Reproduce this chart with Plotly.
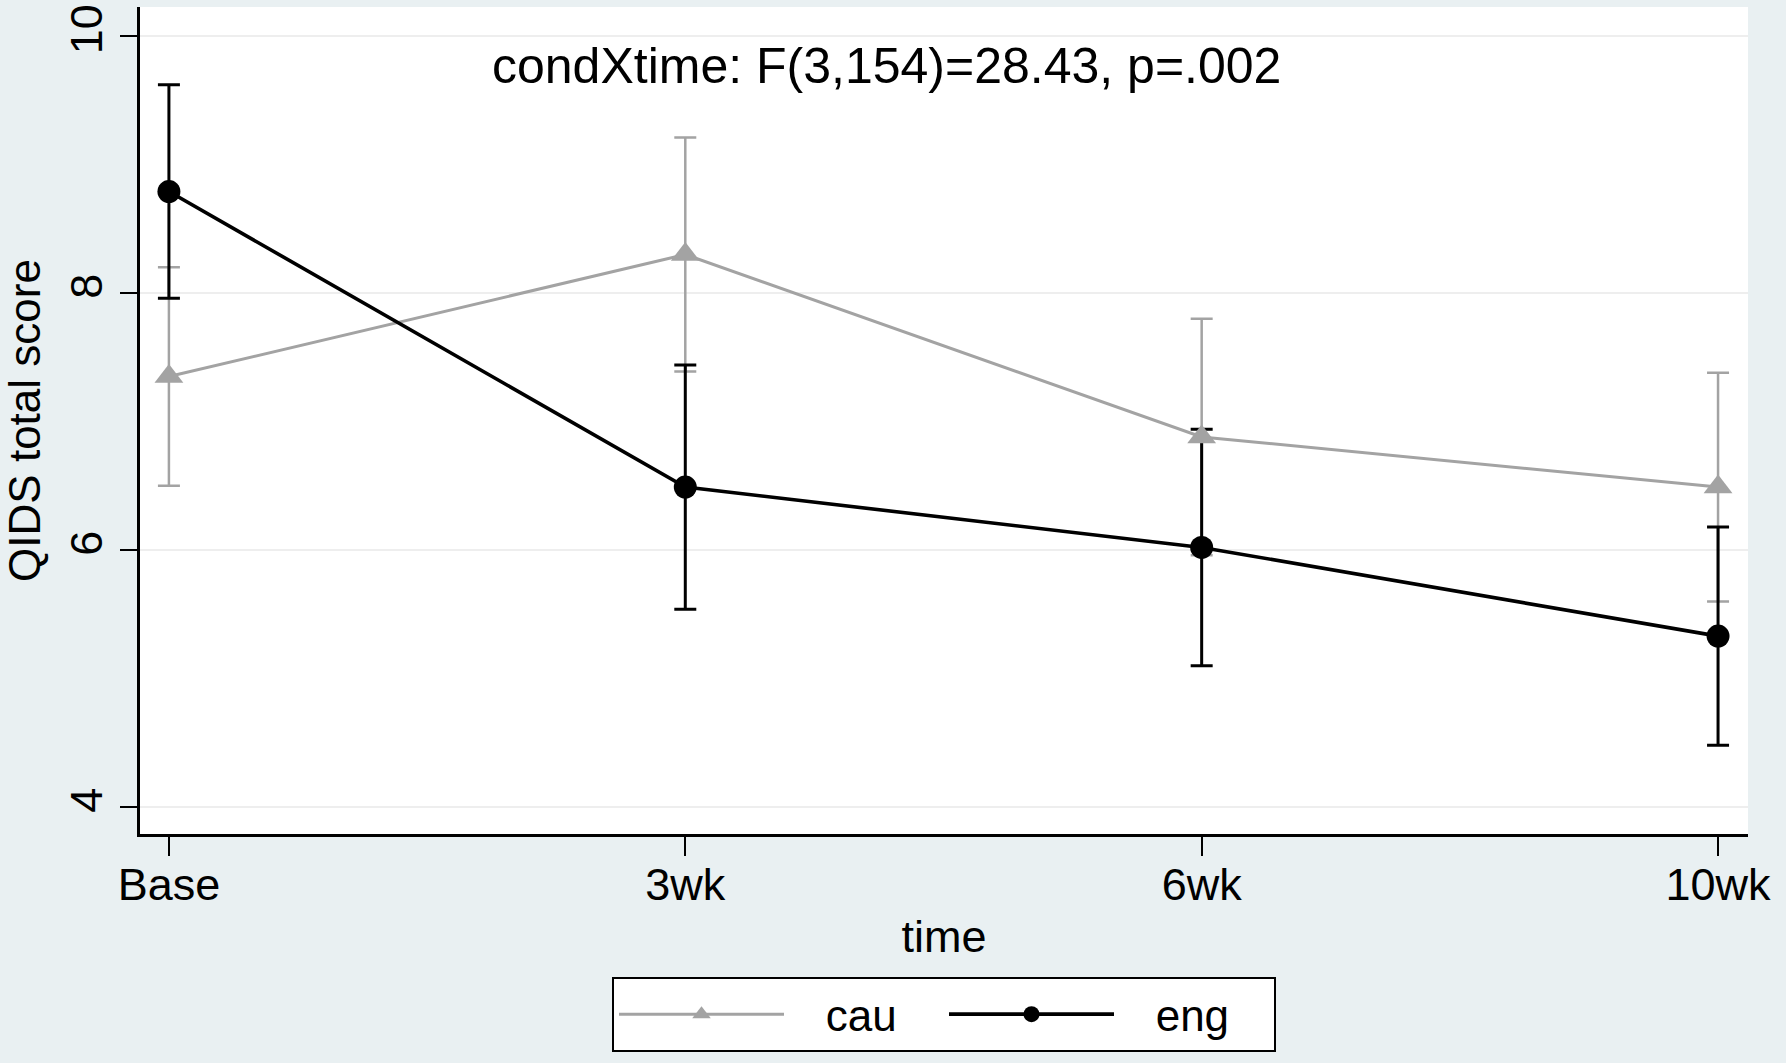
import plotly.graph_objects as go

times = ["Base", "3wk", "6wk", "10wk"]
cau_mean = [7.35, 8.30, 6.88, 6.49]
cau_err = [0.85, 0.91, 0.92, 0.89]
eng_mean = [8.79, 6.49, 6.02, 5.33]
eng_err = [0.83, 0.95, 0.92, 0.85]
y_ticks = [4, 6, 8, 10]
annot_text = "condXtime: F(3,154)=28.43, p=.002"

GRAY = "#A3A3A3"
BLACK = "#000000"
FONT = "Liberation Sans, Arial, Helvetica, sans-serif"

fig = go.Figure()

# error bars first
fig.add_trace(go.Scatter(
    x=times, y=cau_mean, mode="markers", showlegend=False, hoverinfo="skip",
    marker=dict(size=1, color="rgba(0,0,0,0)"),
    error_y=dict(type="data", array=cau_err, visible=True, color=GRAY, thickness=2.5, width=11),
))
fig.add_trace(go.Scatter(
    x=times, y=eng_mean, mode="markers", showlegend=False, hoverinfo="skip",
    marker=dict(size=1, color="rgba(0,0,0,0)"),
    error_y=dict(type="data", array=eng_err, visible=True, color=BLACK, thickness=3, width=11),
))
# lines + markers
fig.add_trace(go.Scatter(
    x=times, y=cau_mean, mode="lines+markers", name="\u00a0\u00a0\u00a0cau",
    line=dict(color=GRAY, width=3),
    marker=dict(symbol="triangle-up", size=25, color=GRAY),
))
fig.add_trace(go.Scatter(
    x=times, y=eng_mean, mode="lines+markers", name="\u00a0\u00a0\u00a0eng",
    line=dict(color=BLACK, width=3.6),
    marker=dict(symbol="circle", size=23, color=BLACK),
))

fig.add_annotation(
    x=1.39, y=9.77, xref="x", yref="y", text=annot_text, showarrow=False,
    font=dict(family=FONT, size=50, color="black"), xanchor="center", yanchor="middle",
)

fig.update_layout(
    width=1786, height=1063,
    margin=dict(l=140, r=38, t=7, b=229, autoexpand=False),
    paper_bgcolor="#E9F0F2",
    plot_bgcolor="white",
    font=dict(family=FONT, size=45, color="black"),
    legend=dict(
        orientation="h", x=0.5, xanchor="center", y=-0.173, yanchor="top",
        bgcolor="white", bordercolor="black", borderwidth=2,
        font=dict(size=44), itemwidth=165, entrywidth=150, itemsizing="trace",
    ),
    xaxis=dict(
        type="category", range=[-0.056, 3.058], automargin=False,
        showline=True, linecolor="black", linewidth=2.5, mirror=False,
        ticks="outside", ticklen=19, tickwidth=2, tickcolor="black",
        ticklabelstandoff=-10,
        showgrid=False, zeroline=False,
        title=dict(text="time", font=dict(size=45), standoff=12),
    ),
    yaxis=dict(
        range=[3.79, 10.226], tickvals=y_ticks, tickangle=-90, automargin=False,
        showline=True, linecolor="black", linewidth=2.5,
        ticks="outside", ticklen=17, tickwidth=2, tickcolor="black",
        showgrid=True, gridcolor="#EEEEEE", gridwidth=2, zeroline=False,
        title=dict(text="QIDS total score", font=dict(size=44), standoff=10),
    ),
)

fig.write_html("out.html")
